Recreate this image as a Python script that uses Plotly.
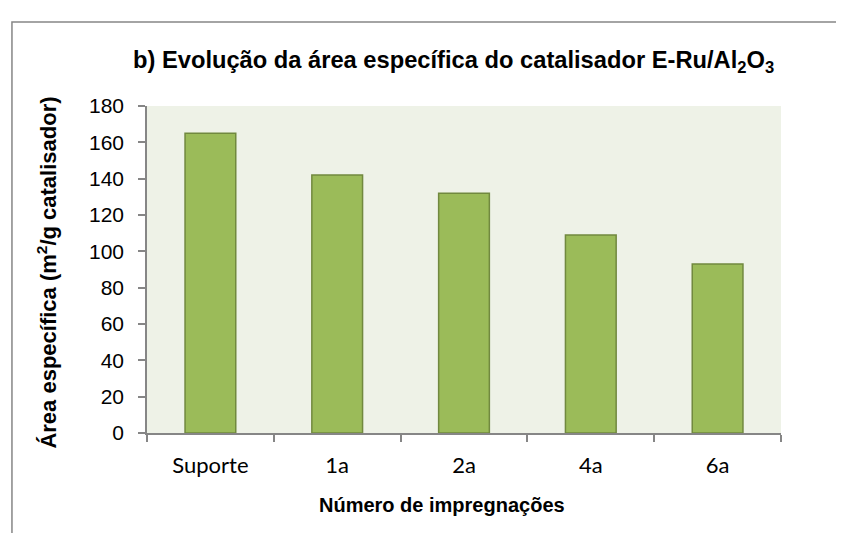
import plotly.graph_objects as go

categorias = ['Suporte', '1a', '2a', '4a', '6a']
area = [165, 142, 132, 109, 93]
yticks = [0, 20, 40, 60, 80, 100, 120, 140, 160, 180]

fig = go.Figure()
fig.add_trace(go.Bar(
    x=categorias, y=area,
    width=0.4,
    marker=dict(color='#9BBB59', line=dict(color='#71893F', width=1.5)),
))

# área do gráfico: 634 x 327 px
fig.update_layout(
    width=844, height=533,
    margin=dict(l=139, r=71, t=98, b=108),
    paper_bgcolor='white',
    plot_bgcolor='#EEF2E7',
    showlegend=False,
    font=dict(family='Liberation Sans, Arial', color='black'),
    shapes=[dict(
        type='rect', xref='paper', yref='paper',
        x0=-0.213, x1=1.3, y0=-0.6, y1=1.257,
        line=dict(color='#868686', width=1.5), fillcolor='rgba(0,0,0,0)',
        layer='below',
    )],
    annotations=[
        dict(text='<b>b) Evolução da área específica do catalisador E-Ru/Al<sub>2</sub>O<sub>3</sub></b>',
             xref='paper', yref='paper', x=0.483, y=1.136, xanchor='center', yanchor='middle',
             showarrow=False, font=dict(size=23.7)),
        dict(text='<b>Número de impregnações</b>',
             xref='paper', yref='paper', x=0.465, y=-0.22, xanchor='center', yanchor='middle',
             showarrow=False, font=dict(size=20)),
        dict(text='<b>Área específica (m<sup>2</sup>/g catalisador)</b>',
             xref='paper', yref='paper', x=-0.158, y=0.49, xanchor='center', yanchor='middle',
             textangle=-90, showarrow=False, font=dict(size=22)),
    ],
)

fig.update_xaxes(
    showline=True, linecolor='#868686', linewidth=1.5,
    ticks='outside', tickson='boundaries', ticklen=7, tickcolor='#868686', tickwidth=1.5,
    tickfont=dict(size=22, family='Lato, Liberation Sans Narrow, sans-serif'),
    ticklabelstandoff=12,
    showgrid=False,
)
fig.update_yaxes(
    range=[0, 180], tickvals=yticks,
    showline=True, linecolor='#868686', linewidth=1.5,
    ticks='outside', ticklen=7, tickcolor='#868686', tickwidth=1.5,
    tickfont=dict(size=21),
    ticklabelstandoff=10,
    showgrid=False, zeroline=False,
)

fig.write_html('out.html')
